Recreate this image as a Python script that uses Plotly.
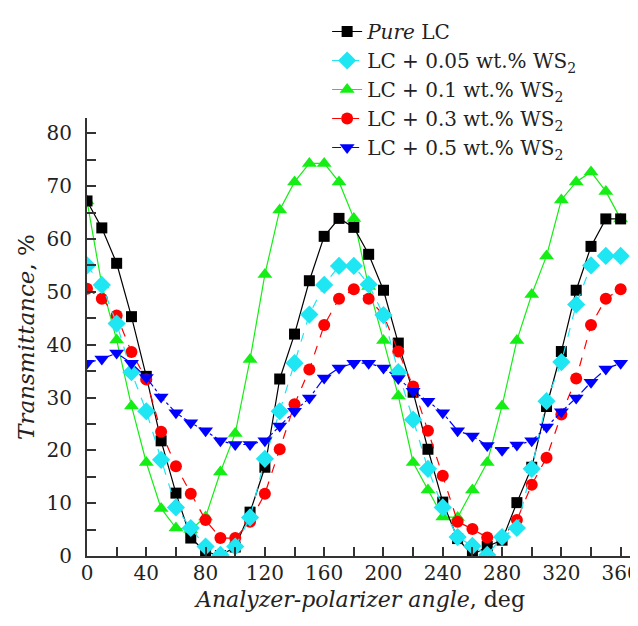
import plotly.graph_objects as go

angle = list(range(0, 361, 10))

pure_lc = [67.2, 62.1, 55.4, 45.3, 34.0, 21.8, 11.9, 3.4, 0.8, 0.1, 1.7, 8.3, 16.8, 33.5, 42.0,
           52.1, 60.5, 63.9, 62.2, 57.1, 50.3, 40.3, 31.0, 20.2, 10.2, 3.3, 0.2, 1.8, 3.0,
           10.1, 16.8, 28.3, 38.7, 50.3, 58.6, 63.8, 63.8]
ws2_005 = [55.0, 51.3, 44.0, 34.8, 27.4, 18.2, 9.2, 5.3, 1.8, 0.2, 1.8, 7.3, 18.4, 27.4, 36.5,
           45.7, 51.3, 54.9, 54.9, 51.4, 45.6, 34.8, 25.8, 16.5, 9.2, 3.6, 1.9, 0.2, 3.6,
           5.3, 16.5, 29.3, 36.7, 47.6, 55.0, 56.8, 56.8]
ws2_01 = [67.2, 51.3, 40.9, 28.4, 17.7, 9.0, 5.3, 5.0, 7.4, 15.9, 23.2, 37.2, 53.3, 65.5, 70.8,
          74.3, 74.3, 70.8, 63.9, 51.0, 40.8, 30.3, 17.7, 12.5, 7.4, 7.3, 12.5, 17.7, 28.4,
          40.8, 49.5, 56.8, 67.4, 70.8, 72.7, 69.0, 63.8]
ws2_03 = [50.6, 48.7, 45.5, 38.6, 33.4, 23.5, 17.0, 11.8, 6.8, 3.4, 3.4, 6.5, 11.8, 20.2, 28.7,
          35.3, 43.7, 48.7, 50.5, 48.7, 45.6, 38.7, 32.1, 23.7, 15.2, 6.5, 5.1, 3.5, 3.5,
          6.8, 13.5, 18.6, 26.8, 33.6, 43.7, 48.7, 50.5]
ws2_05 = [36.5, 37.3, 38.4, 36.5, 33.8, 30.1, 27.1, 25.2, 23.7, 21.8, 21.1, 21.1, 21.8, 24.6, 27.4,
          29.9, 33.7, 35.6, 36.5, 36.5, 35.6, 33.6, 31.2, 29.3, 27.1, 23.7, 22.7, 20.9, 20.0,
          21.0, 21.8, 24.4, 27.3, 29.9, 32.9, 35.4, 36.5]

series_names = ["<i>Pure</i> LC", "LC + 0.05 wt.% WS<sub>2</sub>", "LC + 0.1 wt.% WS<sub>2</sub>",
                "LC + 0.3 wt.% WS<sub>2</sub>", "LC + 0.5 wt.% WS<sub>2</sub>"]
x_tick_vals = list(range(0, 361, 40))
y_tick_vals = list(range(0, 81, 10))

FONT = "DejaVu Serif"
TXT = "#222222"
AX = "#333333"

# (values, name, color, symbol, size, dash, legendrank) in drawing order
traces = [
    (ws2_01, series_names[2], "#14EE14", "triangle-up", 13, "solid", 3),
    (pure_lc, series_names[0], "#000000", "square", 11, "solid", 1),
    (ws2_03, series_names[3], "#FF0000", "circle", 12, "dash", 4),
    (ws2_005, series_names[1], "#1EE6F2", "diamond", 14, "dash", 2),
    (ws2_05, series_names[4], "#0000FF", "triangle-down", 13, "dashdot", 5),
]

fig = go.Figure()
for vals, name, color, sym, size, dash, rank in traces:
    fig.add_trace(go.Scatter(
        x=angle, y=vals, name=name, mode="lines+markers",
        line=dict(color=color, width=1.2, dash=dash),
        marker=dict(symbol=sym, size=size, color=color, line=dict(width=0)),
        legendrank=rank,
    ))

# the page places the figure 8 px in from the top-left corner
fig.update_layout(
    width=630, height=618,
    margin=dict(l=79, r=4, t=107, b=70),
    paper_bgcolor="white", plot_bgcolor="white",
    font=dict(family=FONT, size=20, color=TXT),
    showlegend=True,
    legend=dict(x=0.439, y=1.242, xanchor="left", yanchor="top",
                bgcolor="rgba(0,0,0,0)", font=dict(size=20, family=FONT, color=TXT),
                tracegroupgap=0, itemwidth=30),
)

fig.update_xaxes(
    range=[0, 369], tickmode="array", tickvals=x_tick_vals, ticklabeloverflow="allow",
    automargin=False, ticklabelstandoff=-2,
    ticks="inside", ticklen=9, tickwidth=1.5, tickcolor=AX,
    minor=dict(dtick=20, tick0=0, ticks="inside", ticklen=9, tickwidth=1.5, tickcolor=AX),
    showline=True, linecolor=AX, linewidth=2, showgrid=False, zeroline=False,
    tickfont=dict(size=20, family=FONT, color=TXT),
    title=dict(text="<i>Analyzer-polarizer angle</i>, deg", standoff=8,
               font=dict(size=22, family=FONT, color=TXT)),
)
fig.update_yaxes(
    range=[0, 82.9], tickmode="array", tickvals=y_tick_vals,
    automargin=False, ticklabelstandoff=9,
    ticks="inside", ticklen=9, tickwidth=1.5, tickcolor=AX,
    minor=dict(dtick=5, tick0=0, ticks="inside", ticklen=9, tickwidth=1.5, tickcolor=AX),
    showline=True, linecolor=AX, linewidth=2, showgrid=False, zeroline=False,
    tickfont=dict(size=20, family=FONT, color=TXT),
    title=dict(text="<i>Transmittance</i>, %", standoff=5,
               font=dict(size=23, family=FONT, color=TXT)),
)

fig.write_html("out.html")
